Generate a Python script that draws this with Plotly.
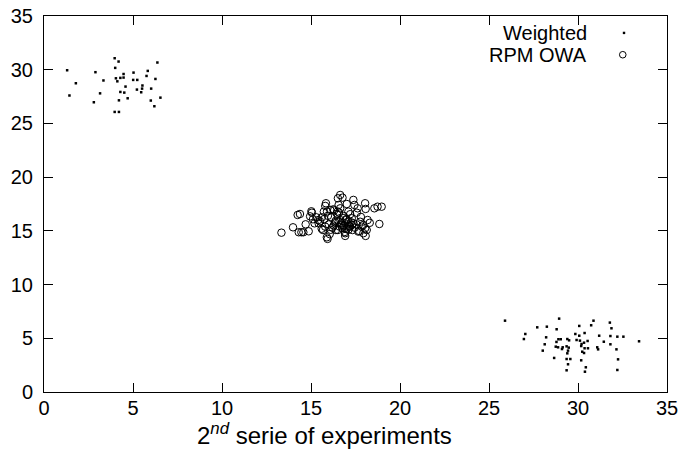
import plotly.graph_objects as go

# Weighted series (two clusters)
weighted_x = [1.30, 1.79, 1.43, 2.89, 2.80, 3.15, 3.34, 3.97, 4.19, 4.00, 4.04, 4.29, 4.12, 4.47, 4.47,
              4.58, 4.29, 4.51, 4.21, 4.70, 3.97, 4.21, 5.03, 5.01, 5.24, 5.22, 5.46, 5.53, 5.51, 5.83,
              5.76, 6.37, 6.26, 6.02, 6.00, 6.20, 6.54,
              25.90, 27.04, 26.96, 27.71, 28.25, 28.21, 28.13, 28.02, 28.94, 28.80, 28.90, 29.03, 28.79,
              28.75, 28.88, 29.10, 29.14, 28.66, 29.36, 29.48, 29.40, 29.50, 29.44, 29.40, 29.36, 29.57,
              29.44, 29.36, 29.85, 30.07, 30.07, 30.37, 29.92, 30.11, 30.20, 30.34, 30.54, 30.18, 30.37,
              30.56, 30.24, 30.34, 30.18, 30.44, 30.39, 30.74, 30.87, 31.19, 31.08, 31.13, 31.45, 31.79,
              31.88, 31.82, 31.82, 32.21, 32.55, 32.16, 32.25, 32.21, 33.43]
weighted_y = [29.95, 28.74, 27.60, 29.77, 26.97, 27.80, 29.00, 31.07, 30.76, 30.17, 29.20, 29.24, 28.92, 29.60, 29.27,
              28.43, 27.93, 27.87, 27.15, 27.34, 26.07, 26.07, 29.73, 29.05, 29.05, 28.15, 27.90, 28.53, 28.24, 29.89,
              29.42, 30.67, 29.14, 28.24, 27.13, 26.60, 27.40,
              6.64, 5.40, 4.93, 6.02, 6.08, 5.09, 4.44, 3.85, 6.83, 5.84, 4.91, 4.91, 4.66,
              4.22, 4.16, 4.00, 4.16, 3.17, 4.25, 4.13, 4.93, 4.81, 3.85, 3.60, 3.07, 3.07,
              2.58, 2.02, 5.40, 5.24, 6.15, 5.49, 4.84, 4.78, 4.47, 4.59, 4.75, 4.28, 4.07,
              4.07, 3.75, 3.63, 2.95, 2.30, 1.89, 6.21, 6.64, 5.24, 4.16, 3.97, 4.68, 6.46,
              5.93, 5.21, 4.44, 5.15, 5.15, 3.97, 3.04, 2.05, 4.72]

# RPM OWA series (central cluster)
owa_x = [13.34, 13.99, 14.31, 14.46, 14.57, 14.87, 14.25, 14.38, 15.02, 15.05, 14.70, 15.11, 15.30, 15.43,
         15.61, 15.72, 15.80, 15.84, 15.67, 15.80, 15.89, 15.93, 16.08, 16.14, 16.27, 16.40, 16.51, 16.55,
         16.51, 16.77, 16.55, 16.64, 16.58, 16.83, 16.73, 16.88, 16.92, 17.01, 17.10, 17.10, 17.20, 16.92,
         17.38, 17.44, 17.62, 17.57, 17.29, 17.38, 17.33, 17.76, 17.85, 17.94, 18.04, 18.13, 18.18, 18.04,
         18.07, 17.94, 18.07, 17.66, 18.56, 18.74, 18.97, 18.84, 16.64,
         15.50, 15.75, 16.00, 16.20, 16.35, 16.60, 16.70, 16.85, 17.00, 17.05, 17.15, 17.25, 16.95, 16.80,
         16.45, 16.30, 15.95, 16.10, 17.45, 17.55, 17.70, 16.65, 16.90, 17.10, 15.90, 16.25, 16.40, 17.30,
         15.60, 15.20, 14.95, 16.05, 16.75, 17.20, 17.80, 18.30, 15.40, 16.50, 17.00]
owa_y = [14.83, 15.33, 14.87, 14.87, 14.87, 14.96, 16.48, 16.57, 16.82, 16.69, 15.61, 16.08, 16.26, 15.70,
         16.26, 16.79, 17.32, 17.57, 15.08, 15.39, 14.40, 14.25, 16.95, 16.26, 15.49, 15.08, 15.08, 15.85,
         18.03, 18.09, 17.41, 17.10, 16.69, 16.39, 15.55, 15.24, 14.78, 17.50, 16.79, 15.85, 15.39, 14.53,
         17.88, 17.41, 17.10, 16.69, 16.17, 15.70, 15.08, 15.85, 15.39, 15.55, 15.24, 15.08, 16.01, 17.57,
         17.04, 14.78, 14.53, 14.93, 17.10, 17.25, 17.25, 15.64, 18.34,
         15.90, 16.10, 15.60, 15.30, 15.80, 15.40, 15.70, 15.50, 15.20, 15.60, 15.45, 15.80, 16.00, 16.20,
         16.60, 16.90, 16.40, 15.10, 15.30, 15.60, 15.00, 16.00, 14.90, 15.10, 16.80, 17.00, 15.95, 15.55,
         15.20, 15.70, 16.35, 14.70, 15.25, 16.55, 16.30, 15.75, 16.00, 16.80, 16.10]

series_names = ["Weighted", "RPM OWA"]
x_title = "2<sup><i>nd</i></sup> serie of experiments"

FONT = "Liberation Sans, Arial, Helvetica, sans-serif"

fig = go.Figure()
fig.add_trace(go.Scatter(
    x=weighted_x, y=weighted_y, mode="markers", name=series_names[0], showlegend=False,
    marker=dict(symbol="square", size=2.5, color="black", line=dict(width=0)),
))
fig.add_trace(go.Scatter(
    x=owa_x, y=owa_y, mode="markers", name=series_names[1], showlegend=False,
    marker=dict(symbol="circle-open", size=7.5, color="black", line=dict(width=1, color="black")),
))

axis_common = dict(
    showgrid=False, zeroline=False, showline=True, linecolor="black", linewidth=1,
    mirror="allticks", ticks="inside", ticklen=9, tickcolor="black", tickwidth=1,
    tickfont=dict(family=FONT, size=20, color="black"),
    dtick=5, tick0=0, range=[0, 35],
)

# gnuplot-style key: right-aligned text, sample to the right
key_rows_y = [0.955, 0.897]
annotations = []
shapes = []
for name, yy in zip(series_names, key_rows_y):
    annotations.append(dict(text=name, x=0.875, y=yy, xref="paper", yref="paper",
                            xanchor="right", yanchor="middle", showarrow=False,
                            font=dict(family=FONT, size=20, color="black")))
shapes.append(dict(type="rect", xref="paper", yref="paper", xsizemode="pixel", ysizemode="pixel",
                   xanchor=0.931, yanchor=key_rows_y[0], x0=-1.2, x1=1.2, y0=-1.2, y1=1.2,
                   fillcolor="black", line=dict(width=0)))
shapes.append(dict(type="circle", xref="paper", yref="paper", xsizemode="pixel", ysizemode="pixel",
                   xanchor=0.929, yanchor=key_rows_y[1], x0=-3.3, x1=3.3, y0=-3.3, y1=3.3,
                   line=dict(width=1, color="black")))

annotations.append(dict(text=x_title, x=0.451, y=-0.113, xref="paper", yref="paper",
                        xanchor="center", yanchor="middle", showarrow=False,
                        font=dict(family=FONT, size=24, color="black")))

fig.update_layout(
    width=684, height=471,
    margin=dict(l=44, r=17, t=16, b=79, autoexpand=False),
    paper_bgcolor="white", plot_bgcolor="white",
    font=dict(family=FONT, color="black"),
    xaxis=dict(**axis_common, ticklabelstandoff=-2),
    yaxis=dict(**axis_common, ticklabelstandoff=6),
    showlegend=False,
    annotations=annotations,
    shapes=shapes,
)

fig.write_html("out.html", config={"displayModeBar": False, "staticPlot": True},
               post_script="document.body.style.margin='0';document.body.style.overflow='hidden';")
